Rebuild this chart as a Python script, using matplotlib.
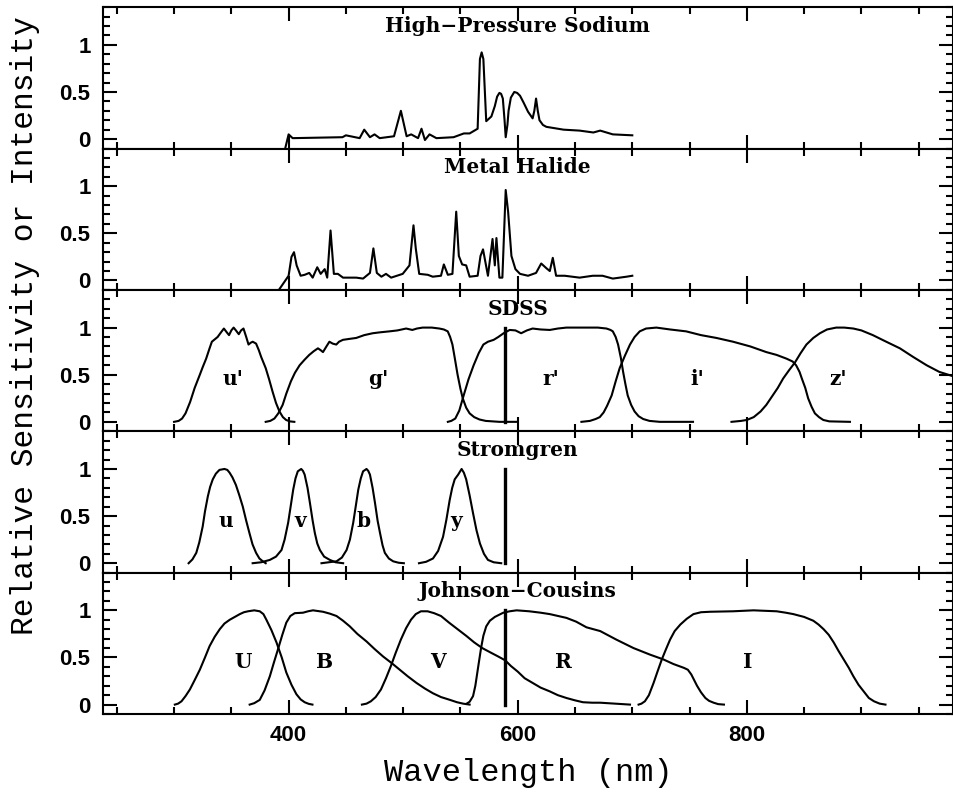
"""
Lamp spectra vs. photometric filter passbands (5 stacked panels)
"""
import matplotlib
matplotlib.use("Agg")
import matplotlib.pyplot as plt
from matplotlib.ticker import MultipleLocator, FormatStrFormatter

# --- data ----------------------------------------------------------------
# High-pressure sodium lamp spectrum
hps_nm  = [397, 400, 403.5, 447, 450, 462, 466, 471, 475, 479.5, 492, 498, 503,
           507, 513, 516, 519, 523, 529, 544, 553, 558, 565, 567, 568.5, 570,
           572.5, 577, 580, 582, 584, 585.5, 587, 588.5, 589.5, 591, 592, 594,
           597, 599.5, 602, 605, 609, 613, 614.5, 616, 617.5, 619, 622, 625,
           640, 654, 666, 672, 683, 700]
hps_val = [-0.1, 0.05, 0.01, 0.02, 0.04, 0.01, 0.10, 0.02, 0.05, 0.01, 0.03,
           0.30, 0.03, 0.05, 0.01, 0.11, -0.01, 0.05, 0.01, 0.02, 0.06, 0.06,
           0.11, 0.85, 0.92, 0.85, 0.19, 0.24, 0.35, 0.45, 0.49, 0.48, 0.43,
           0.20, 0.02, 0.15, 0.30, 0.44, 0.50, 0.49, 0.46, 0.39, 0.29, 0.22,
           0.30, 0.43, 0.30, 0.20, 0.15, 0.13, 0.10, 0.09, 0.07, 0.09, 0.05, 0.04]

# Metal halide lamp spectrum
mh_nm  = [391.5, 400, 402.5, 404.7, 407, 410.5, 414, 418, 421, 425, 428, 431.5,
          433.7, 436.6, 439.5, 443, 447.5, 459, 465, 471, 474, 477, 481, 485,
          489.5, 499.6, 505.5, 509, 511, 514, 521.5, 525.8, 533, 535.5, 539,
          543, 546.3, 548.6, 551.5, 555, 558, 565, 567.5, 569.7, 574, 578, 580,
          581.4, 584, 586.6, 589.5, 591.6, 594.5, 598, 602, 609, 616, 620.5,
          625, 628, 630.6, 633.5, 641, 654, 665.5, 674, 683, 695, 700]
mh_val = [-0.1, 0.05, 0.25, 0.30, 0.16, 0.05, 0.06, 0.08, 0.03, 0.14, 0.07,
          0.12, 0.03, 0.53, 0.07, 0.07, 0.03, 0.03, 0.02, 0.08, 0.34, 0.08,
          0.04, 0.07, 0.03, 0.07, 0.16, 0.585, 0.34, 0.07, 0.06, 0.04, 0.05,
          0.17, 0.06, 0.07, 0.73, 0.26, 0.17, 0.16, 0.04, 0.05, 0.26, 0.33,
          0.05, 0.44, 0.16, 0.45, 0.03, 0.03, 0.96, 0.73, 0.26, 0.12, 0.07,
          0.05, 0.08, 0.18, 0.13, 0.10, 0.24, 0.05, 0.05, 0.03, 0.05, 0.05,
          0.02, 0.04, 0.05]

# SDSS filters
sdss_u_nm  = [300, 304, 307, 310, 314, 318, 322.5, 325, 328, 331, 333, 336, 338,
              341, 343.5, 346, 348, 350, 352, 354, 356.5, 358.5, 360.6, 363, 365,
              367, 368.7, 371.6, 374, 376, 378, 380, 383, 386, 389, 392, 395,
              397.8, 401, 405]
sdss_u_val = [0, 0.01, 0.035, 0.09, 0.21, 0.36, 0.5, 0.58, 0.67, 0.78, 0.85,
              0.88, 0.9, 0.95, 0.99, 0.95, 0.92, 0.97, 1.0, 0.97, 0.93, 0.97,
              0.99, 0.9, 0.82, 0.84, 0.85, 0.83, 0.76, 0.69, 0.63, 0.57, 0.45,
              0.32, 0.2, 0.11, 0.05, 0.02, 0.005, 0]
sdss_g_nm  = [380, 384, 387.6, 391, 394.8, 398, 402, 405.5, 409.6, 414, 418,
              422, 425.6, 428, 430, 433, 435.6, 438.5, 441.6, 444, 447.4, 453,
              459, 466, 473.4, 480, 488, 495, 502.6, 508, 512, 517, 525, 531.6,
              535.5, 538.9, 541, 543, 545, 547.5, 550, 552, 555, 558, 562,
              566.6, 572, 584, 599]
sdss_g_val = [0, 0.01, 0.035, 0.09, 0.18, 0.3, 0.43, 0.52, 0.6, 0.66, 0.71,
              0.75, 0.78, 0.76, 0.74, 0.8, 0.85, 0.83, 0.82, 0.85, 0.87, 0.88,
              0.89, 0.92, 0.94, 0.95, 0.96, 0.97, 0.99, 0.975, 0.99, 1.0, 1.0,
              0.99, 0.98, 0.96, 0.9, 0.82, 0.68, 0.5, 0.35, 0.25, 0.15, 0.09,
              0.05, 0.025, 0.01, 0, 0]
sdss_r_nm  = [539, 542, 545.5, 549, 552.8, 557, 561.5, 566, 570, 574, 579, 583,
              587.7, 593, 598, 603, 608, 613, 620, 628, 635, 642.5, 657, 670,
              677.5, 681, 683, 685.5, 687.6, 690, 692, 694, 696, 699, 702, 705.5,
              709.5, 715, 724, 753]
sdss_r_val = [0, 0.01, 0.035, 0.12, 0.28, 0.45, 0.6, 0.73, 0.82, 0.85, 0.87,
              0.9, 0.94, 0.975, 0.97, 0.94, 0.97, 0.99, 0.98, 0.975, 0.99, 1.0,
              1.0, 1.0, 0.99, 0.975, 0.96, 0.9, 0.82, 0.68, 0.53, 0.4, 0.28,
              0.18, 0.11, 0.06, 0.03, 0.01, 0, 0]
sdss_i_nm  = [655.6, 663, 668, 671.6, 675, 678, 682, 685.5, 689, 693.5, 698,
              702, 706.5, 712, 721, 733, 747, 760, 773.5, 788, 803, 817, 826,
              834.7, 840, 843, 846, 848, 851, 853.5, 856.5, 859.4, 863, 866.7,
              872, 890]
sdss_i_val = [0, 0.01, 0.03, 0.05, 0.1, 0.17, 0.28, 0.43, 0.57, 0.7, 0.82,
              0.9, 0.96, 0.99, 1.0, 0.98, 0.96, 0.92, 0.89, 0.85, 0.8, 0.74,
              0.71, 0.67, 0.64, 0.6, 0.53, 0.46, 0.36, 0.25, 0.16, 0.09, 0.05,
              0.02, 0.005, 0]
sdss_z_nm  = [786.6, 795, 800, 806, 812, 817, 822, 827, 831.7, 837, 842, 847,
              852, 858, 863.8, 870, 878, 885, 893, 900, 910, 920, 933.6, 945,
              957, 968, 981]
sdss_z_val = [0, 0.01, 0.02, 0.05, 0.11, 0.18, 0.27, 0.36, 0.46, 0.55, 0.63,
              0.73, 0.82, 0.89, 0.94, 0.98, 1.0, 1.0, 0.99, 0.97, 0.92, 0.86,
              0.78, 0.69, 0.6, 0.53, 0.48]

# Stromgren filters
str_u_nm  = [312.7, 316, 319.4, 322, 325, 327, 329.5, 331.5, 333.8, 336.5,
             339.6, 344, 346.5, 348.5, 351, 354, 357, 360, 363, 365.8, 368.5,
             371.6, 374.5, 377.5, 380]
str_u_val = [0, 0.04, 0.11, 0.22, 0.39, 0.55, 0.71, 0.81, 0.89, 0.95, 0.99,
             1.0, 0.99, 0.96, 0.91, 0.83, 0.72, 0.6, 0.45, 0.32, 0.2, 0.11,
             0.05, 0.02, 0]
str_v_nm  = [368.6, 376, 383.6, 389, 393.8, 396.5, 399.6, 402, 404, 406, 408,
             411, 412.5, 414, 416.5, 418.6, 421, 422.9, 425, 427.3, 431, 436,
             441, 447.6]
str_v_val = [0, 0.01, 0.035, 0.07, 0.14, 0.25, 0.43, 0.62, 0.78, 0.9, 0.975,
             1.0, 0.98, 0.94, 0.8, 0.64, 0.45, 0.32, 0.21, 0.14, 0.07, 0.035,
             0.01, 0]
str_b_nm  = [428.7, 435, 441.8, 446.5, 450.6, 453.5, 456.4, 458.8, 460.8, 463,
             465, 468, 469.5, 471, 473.3, 475.4, 477.7, 479.8, 482, 484, 487.5,
             491.3, 496, 500.6]
str_b_val = [0, 0.01, 0.02, 0.06, 0.14, 0.25, 0.43, 0.62, 0.78, 0.9, 0.975,
             1.0, 0.98, 0.94, 0.8, 0.64, 0.45, 0.32, 0.19, 0.11, 0.05, 0.02,
             0.005, 0]
str_y_nm  = [513.8, 520, 526, 530.5, 534.8, 537.7, 540.6, 542.8, 545, 548, 551,
             553, 555, 558, 561, 564, 567, 570.5, 574, 579, 585.6]
str_y_val = [0, 0.015, 0.05, 0.13, 0.28, 0.46, 0.67, 0.8, 0.89, 0.94, 1.0,
             0.96, 0.89, 0.72, 0.53, 0.35, 0.21, 0.1, 0.035, 0.01, 0]

# Johnson-Cousins filters
jc_U_nm  = [300.7, 303.5, 306.5, 310, 313.8, 318, 322.5, 327, 331, 335.5,
            339.9, 344, 348.6, 353, 357.4, 361, 364.6, 370, 374.8, 378, 380.6,
            385, 389.4, 394, 398, 402.5, 406.8, 410.5, 414, 417.5, 420.8]
jc_U_val = [0, 0.01, 0.035, 0.09, 0.16, 0.26, 0.37, 0.5, 0.62, 0.72, 0.8,
            0.86, 0.9, 0.93, 0.96, 0.98, 0.99, 1.0, 0.99, 0.96, 0.9, 0.79,
            0.66, 0.5, 0.34, 0.21, 0.11, 0.055, 0.025, 0.008, 0]
jc_B_nm  = [366, 370, 374.8, 379, 383.6, 387, 390.8, 394.5, 398, 401.5, 405.4,
            412.6, 417, 421.3, 430, 436, 441.8, 447.5, 453.4, 460, 468, 475,
            482.5, 490, 497, 504, 511.6, 519, 526, 533, 540.8, 547, 552.4, 558]
jc_B_val = [0, 0.015, 0.05, 0.15, 0.3, 0.44, 0.59, 0.74, 0.87, 0.94, 0.97,
            0.975, 0.99, 1.0, 0.985, 0.965, 0.94, 0.89, 0.83, 0.75, 0.67, 0.59,
            0.51, 0.44, 0.37, 0.3, 0.23, 0.17, 0.12, 0.08, 0.05, 0.025, 0.01, 0]
jc_V_nm  = [464, 468, 471.8, 476, 480.6, 485, 489.3, 493.5, 498, 502.5, 506.8,
            511, 515.5, 521.3, 527, 533, 540, 547.5, 555, 562, 569, 576.7, 583,
            589, 594, 600, 606, 613, 620, 628, 635, 642.5, 650, 657, 665, 672,
            685, 698]
jc_V_val = [0, 0.01, 0.035, 0.08, 0.16, 0.28, 0.41, 0.55, 0.69, 0.81, 0.9,
            0.96, 0.99, 0.99, 0.97, 0.94, 0.87, 0.8, 0.73, 0.66, 0.6, 0.55,
            0.51, 0.47, 0.41, 0.35, 0.28, 0.23, 0.18, 0.14, 0.1, 0.07, 0.045,
            0.025, 0.02, 0.02, 0.01, 0]
jc_R_nm  = [555.4, 558, 561, 563, 565.6, 568, 570, 572.5, 575.7, 580, 587.4,
            593, 599, 610, 620, 628, 642.5, 651, 660, 672, 686, 701, 715.5, 727,
            736, 745, 748.5, 751.5, 754, 756.5, 760, 763.8, 767, 771, 775, 780]
jc_R_val = [0.01, 0.03, 0.09, 0.2, 0.41, 0.6, 0.73, 0.83, 0.89, 0.93, 0.975,
            0.99, 1.0, 0.99, 0.975, 0.96, 0.92, 0.88, 0.82, 0.78, 0.69, 0.6,
            0.53, 0.48, 0.43, 0.39, 0.37, 0.32, 0.26, 0.2, 0.13, 0.07, 0.04,
            0.02, 0.005, 0]
jc_I_nm  = [705.5, 708, 711, 714.5, 718.6, 722, 725.8, 729.5, 733, 737, 742,
            747.5, 753.4, 760, 768, 788, 805.8, 826, 834, 840.6, 850, 858,
            862.5, 867, 871.5, 875.8, 880, 884.5, 889, 893, 897.5, 902, 906.5,
            911, 916, 921]
jc_I_val = [0, 0.01, 0.035, 0.1, 0.23, 0.35, 0.48, 0.59, 0.69, 0.78, 0.85,
            0.91, 0.96, 0.98, 0.985, 0.99, 1.0, 0.99, 0.975, 0.96, 0.93, 0.89,
            0.85, 0.8, 0.74, 0.66, 0.57, 0.48, 0.39, 0.3, 0.21, 0.14, 0.07,
            0.035, 0.01, 0]

NA_D = 589.0   # sodium D line marker

panel_titles = ["High\u2212Pressure Sodium", "Metal Halide", "SDSS",
                "Stromgren", "Johnson\u2212Cousins"]

sdss_names = ["u'", "g'", "r'", "i'", "z'"]
sdss_lab_x = [351, 478, 629, 757, 880]
str_names  = ["u", "v", "b", "y"]
str_lab_x  = [345.5, 410, 465.6, 546.5]
jc_names   = ["U", "B", "V", "R", "I"]
jc_lab_x   = [360, 431, 530, 640, 801]

# --- plot -----------------------------------------------------------------
fig = plt.figure(figsize=(9.54, 7.93), dpi=100)
axes = fig.subplots(5, 1, sharex=True)
fig.subplots_adjust(left=0.108, right=0.999, bottom=0.0996, top=0.991, hspace=0)

LW = 1.5
title_font = dict(family="DejaVu Serif", weight="bold", size=14.5)
lab_font   = dict(family="DejaVu Serif", weight="bold", size=14.5)

curves = [
    [(hps_nm, hps_val)],
    [(mh_nm, mh_val)],
    [(sdss_u_nm, sdss_u_val), (sdss_g_nm, sdss_g_val), (sdss_r_nm, sdss_r_val),
     (sdss_i_nm, sdss_i_val), (sdss_z_nm, sdss_z_val)],
    [(str_u_nm, str_u_val), (str_v_nm, str_v_val), (str_b_nm, str_b_val),
     (str_y_nm, str_y_val)],
    [(jc_U_nm, jc_U_val), (jc_B_nm, jc_B_val), (jc_V_nm, jc_V_val),
     (jc_R_nm, jc_R_val), (jc_I_nm, jc_I_val)],
]
labels = [None, None, (sdss_names, sdss_lab_x), (str_names, str_lab_x),
          (jc_names, jc_lab_x)]

for i, ax in enumerate(axes):
    for x, y in curves[i]:
        ax.plot(x, y, color="black", lw=LW)
    if i >= 2:
        ax.plot([NA_D, NA_D], [0, 1], color="black", lw=2.4)
        names, xs = labels[i]
        for n, xx in zip(names, xs):
            ax.text(xx, 0.45, n, ha="center", va="center", **lab_font)
    ax.text(600, 1.2, panel_titles[i], ha="center", va="center", **title_font)

    ax.set_xlim(238, 980)
    ax.set_ylim(-0.1, 1.4)
    ax.xaxis.set_major_locator(MultipleLocator(200))
    ax.xaxis.set_minor_locator(MultipleLocator(50))
    ax.yaxis.set_minor_locator(MultipleLocator(0.1))
    ax.yaxis.set_major_formatter(FormatStrFormatter("%g"))
    ax.set_yticks([0, 0.5, 1])
    ax.tick_params(which="both", direction="in", top=True, right=True,
                   width=1.5, labelsize=16)
    ax.tick_params(which="major", length=10)
    ax.tick_params(which="minor", length=5)
    ax.tick_params(axis="y", pad=9)
    for lbl in ax.get_yticklabels() + ax.get_xticklabels():
        lbl.set_family("Liberation Sans")
        lbl.set_weight("bold")
    for s in ax.spines.values():
        s.set_linewidth(1.5)

axes[-1].tick_params(axis="x", pad=8)
fig.text(0.5535, 0.025, "Wavelength (nm)", ha="center", va="center",
         family="Liberation Mono", size=23)
fig.text(0.026, 0.59, "Relative Sensitivity or Intensity", ha="center",
         va="center", rotation=90, family="Liberation Mono", size=22.5)

fig.savefig("out.png", dpi=100)
